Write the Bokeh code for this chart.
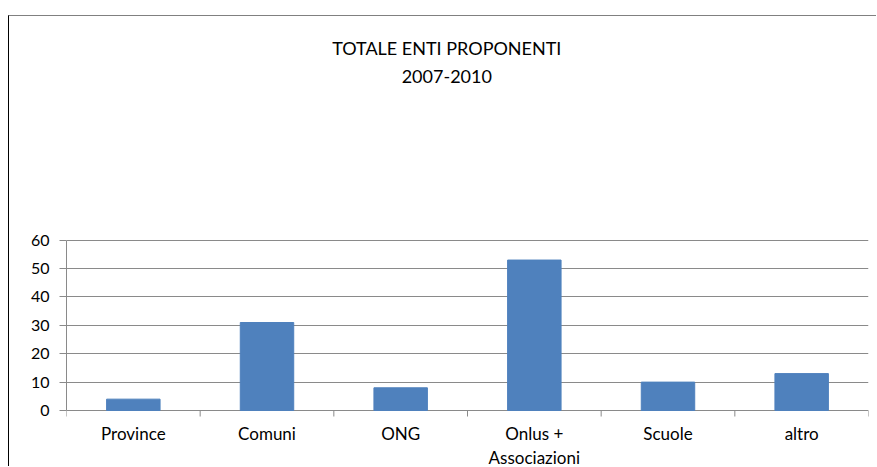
from bokeh.plotting import figure
from bokeh.models import Range1d, FixedTicker, ColumnDataSource
from bokeh.core.properties import value
from bokeh.embed import file_html
from bokeh.resources import INLINE
import numpy as np

categories = ["Province", "Comuni", "ONG", "Onlus +\nAssociazioni", "Scuole", "altro"]
values = [4, 31, 8, 53, 10, 13]
y_ticks = [0, 10, 20, 30, 40, 50, 60]
title_line1 = "TOTALE ENTI PROPONENTI"
title_line2 = "2007-2010"

n = len(categories)
centers = list(np.arange(n) + 0.5)
bounds = list(range(n + 1))
y_max = y_ticks[-1]

FONT = "Lato"
GRID = "#8a8a8a"

# the frame covers the whole chart area: above the value axis it holds the
# two-line title, below it the category labels
y_top = 138.8
y_bottom = -20.08
title_x = 2.845
title_y1 = 127.7
title_y2 = 117.5

p = figure(width=868, height=451, output_backend="svg", toolbar_location=None,
           x_range=Range1d(0, n), y_range=Range1d(y_bottom, y_top),
           x_axis_location=None,
           min_border_left=57, min_border_right=9, min_border_bottom=0, min_border_top=0)
p.styles = {"margin-top": "15px", "margin-left": "8px",
            "border-top": "1px solid #808080", "border-left": "1px solid #000000"}
p.outline_line_color = None
p.background_fill_color = "white"
p.border_fill_color = "white"

src = ColumnDataSource(dict(x=centers, top=values, label=categories, base=[0] * n))
p.vbar(x="x", top="top", width=0.4, source=src, fill_color="#4F81BD", line_color="#4F81BD")

# category tick marks at the category boundaries, hanging below the axis
p.ray(x=bounds, y=[0] * len(bounds), length=6, length_units="screen",
      angle=-np.pi / 2, line_color=GRID, line_width=1)

# category labels
p.text(x="x", y="base", text="label", source=src, y_offset=12,
       text_align="center", text_baseline="top", text_font=value(FONT),
       text_font_size="17px", text_color="#000000", text_line_height=1.15)

# title
p.text(x=[title_x], y=[title_y1], text=[title_line1], text_align="center",
       text_baseline="middle", text_font=value(FONT), text_font_size="18px",
       text_color="#000000")
p.text(x=[title_x], y=[title_y2], text=[title_line2], text_align="center",
       text_baseline="middle", text_font=value(FONT), text_font_size="18px",
       text_color="#000000")

# y axis
p.yaxis.ticker = FixedTicker(ticks=y_ticks)
p.yaxis.bounds = (0, y_max)
p.yaxis.axis_line_color = GRID
p.yaxis.major_tick_line_color = GRID
p.yaxis.major_tick_in = 0
p.yaxis.major_tick_out = 7
p.yaxis.minor_tick_line_color = None
p.yaxis.major_label_text_font = FONT
p.yaxis.major_label_text_font_size = "16px"
p.yaxis.major_label_text_color = "#000000"
p.yaxis.major_label_standoff = 10

p.xgrid.grid_line_color = None
p.ygrid.ticker = FixedTicker(ticks=y_ticks)
p.ygrid.bounds = (0, y_max)
p.ygrid.grid_line_color = GRID

open("out.html", "w").write(file_html(p, INLINE))
